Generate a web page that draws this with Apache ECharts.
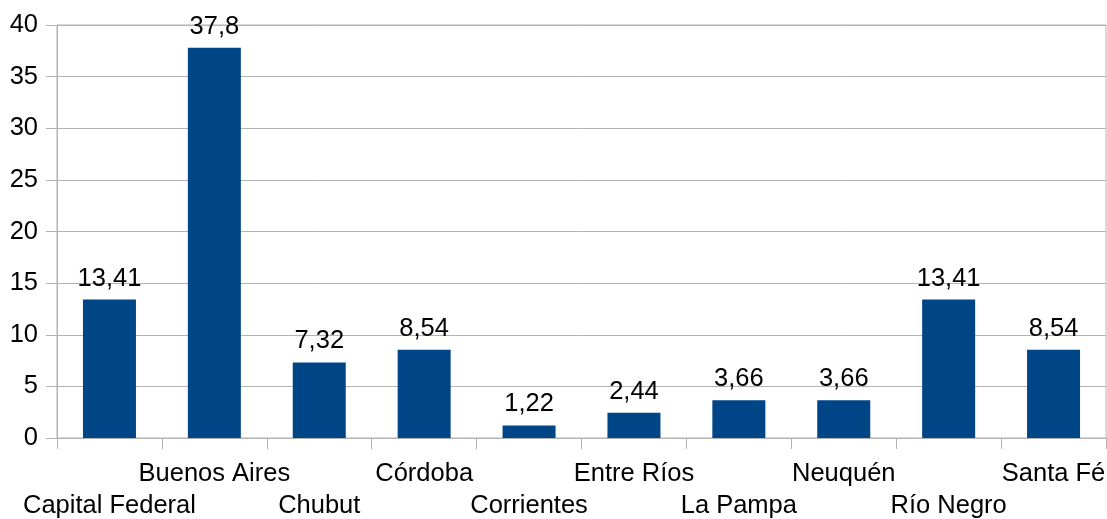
<!DOCTYPE html>
<html>
<head>
<meta charset="utf-8">
<script src="https://cdn.jsdelivr.net/npm/echarts@6/dist/echarts.min.js"></script>
<style>
html,body{margin:0;padding:0;background:#fff;}
#chart{width:1107px;height:519px;}
</style>
</head>
<body>
<div id="chart"></div>
<script>
const categories = ['Capital Federal','Buenos Aires','Chubut','Córdoba','Corrientes','Entre Ríos','La Pampa','Neuquén','Río Negro','Santa Fé'];
const values = [13.41, 37.8, 7.32, 8.54, 1.22, 2.44, 3.66, 3.66, 13.41, 8.54];
const yTicks = {min: 0, max: 40, interval: 5};

const chart = echarts.init(document.getElementById('chart'), null, {renderer: 'canvas'});
const fontFamily = '"Liberation Sans", Arial, sans-serif';
chart.setOption({
  animation: false,
  grid: {left: 57, right: 1, top: 25, bottom: 81, containLabel: false, outerBoundsMode: 'none', show: true, borderColor: '#b3b3b3', borderWidth: 1},
  xAxis: {
    type: 'category',
    data: categories,
    axisLine: {lineStyle: {color: '#b3b3b3', width: 1}},
    axisTick: {show: true, alignWithLabel: false, length: 11, interval: 0, lineStyle: {color: '#b3b3b3'}},
    axisLabel: {
      interval: 0,
      margin: 20,
      color: '#000',
      fontSize: 25.5,
      fontFamily: fontFamily,
      lineHeight: 32,
      formatter: function (v, i) { return i % 2 === 0 ? '\n' + v : v; }
    }
  },
  yAxis: {
    type: 'value',
    min: yTicks.min, max: yTicks.max, interval: yTicks.interval,
    axisLine: {show: true, lineStyle: {color: '#b3b3b3'}},
    axisTick: {show: true, length: 11, lineStyle: {color: '#b3b3b3'}},
    splitLine: {lineStyle: {color: '#b3b3b3'}},
    axisLabel: {margin: 19, color: '#000', fontSize: 25.5, fontFamily: fontFamily}
  },
  series: [{
    type: 'bar',
    data: values,
    barWidth: 53,
    itemStyle: {color: '#004586'},
    label: {
      show: true,
      position: 'top',
      distance: 8,
      color: '#000',
      fontSize: 25.5,
      fontFamily: fontFamily,
      formatter: function (p) { return String(p.value).replace('.', ','); }
    }
  }]
});
</script>
</body>
</html>
